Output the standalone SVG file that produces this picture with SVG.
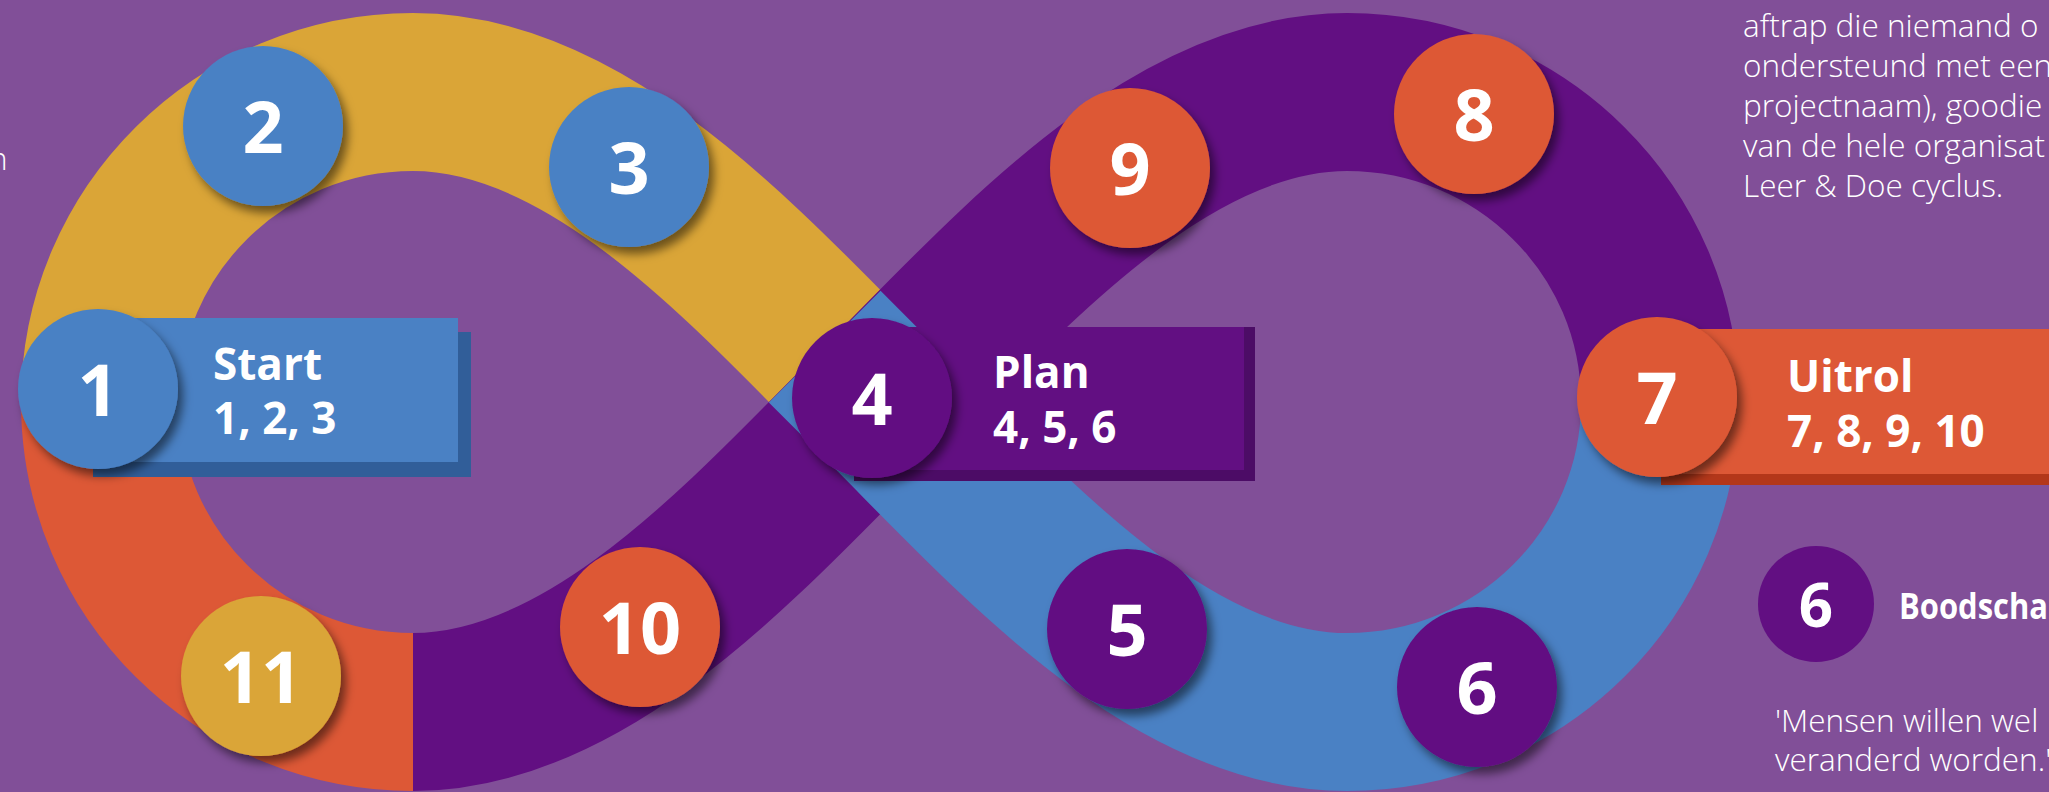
<svg xmlns="http://www.w3.org/2000/svg" width="2049" height="792" viewBox="0 0 2049 792">
<defs>
<style>
.band{fill:none;stroke-width:158;stroke-linecap:butt;stroke-linejoin:round}
.num{font-family:"Open Sans","Noto Sans",sans-serif;font-weight:700;font-size:72px;fill:#fff;text-anchor:middle}
.lbl{font-family:"Open Sans","Noto Sans",sans-serif;font-weight:700;font-size:44px;fill:#fff}
.body{font-family:"Open Sans","Noto Sans",sans-serif;font-weight:300;font-size:31.5px;fill:#fff}
.blue{fill:#4A81C4}.purple{fill:#620F82}.orange{fill:#DD5836}.yellow{fill:#DAA537}
</style>
<filter id="sh" x="-30%" y="-30%" width="160%" height="160%">
<feDropShadow dx="5" dy="7" stdDeviation="5" flood-color="#000" flood-opacity="0.5"/>
</filter>
</defs>
<rect width="2049" height="792" fill="#814F98"/>

<g id="track">
<path class="band" stroke="#DAA537" d="M100,402 C100,230.8 240.1,92 413,92 C593,92 752.7,274.7 880,402"/>
<path class="band" stroke="#DD5836" d="M100,402 C100,573.2 240.1,712 413,712"/>
<path class="band" stroke="#620F82" d="M413,712 C593,712 752.7,529.3 880,402 C1007.3,274.7 1167,92 1347,92 C1519.9,92 1660,230.8 1660,402"/>
<path class="band" stroke="#4A81C4" d="M824.7,346.7 L880,402 C1007.3,529.3 1167,712 1347,712 C1519.9,712 1660,573.2 1660,402"/>
</g>

<g id="box-start">
<rect x="93" y="332" width="378" height="145" fill="#315E99"/>
<rect x="80" y="318" width="378" height="144" fill="#4A81C4"/>
<text class="lbl" x="213" y="380">Start</text>
<text class="lbl" x="213" y="434">1, 2, 3</text>
</g>
<g id="box-plan">
<rect x="854" y="327" width="401" height="154" fill="#4C0C66"/>
<rect x="843" y="327" width="401" height="143" fill="#620F82"/>
<text class="lbl" x="993" y="388">Plan</text>
<text class="lbl" x="993" y="443">4, 5, 6</text>
</g>
<g id="box-uitrol">
<rect x="1661" y="340" width="400" height="145" fill="#B3371A"/>
<rect x="1650" y="329" width="400" height="145" fill="#DD5836"/>
<text class="lbl" x="1787" y="392">Uitrol</text>
<text class="lbl" x="1787" y="447">7, 8, 9, 10</text>
</g>

<g id="n1"><circle class="blue" cx="98" cy="389" r="80" filter="url(#sh)"/><text class="num" x="98" y="416">1</text></g>
<g id="n2"><circle class="blue" cx="263" cy="126" r="80" filter="url(#sh)"/><text class="num" x="263" y="153">2</text></g>
<g id="n3"><circle class="blue" cx="629" cy="167" r="80" filter="url(#sh)"/><text class="num" x="629" y="194">3</text></g>
<g id="n4"><circle class="purple" cx="872" cy="398" r="80" filter="url(#sh)"/><text class="num" x="872" y="425">4</text></g>
<g id="n5"><circle class="purple" cx="1127" cy="629" r="80" filter="url(#sh)"/><text class="num" x="1127" y="656">5</text></g>
<g id="n6"><circle class="purple" cx="1477" cy="687" r="80" filter="url(#sh)"/><text class="num" x="1477" y="714">6</text></g>
<g id="n7"><circle class="orange" cx="1657" cy="397" r="80" filter="url(#sh)"/><text class="num" x="1657" y="424">7</text></g>
<g id="n8"><circle class="orange" cx="1474" cy="114" r="80" filter="url(#sh)"/><text class="num" x="1474" y="141">8</text></g>
<g id="n9"><circle class="orange" cx="1130" cy="168" r="80" filter="url(#sh)"/><text class="num" x="1130" y="195">9</text></g>
<g id="n10"><circle class="orange" cx="640" cy="627" r="80" filter="url(#sh)"/><text class="num" x="640" y="654">10</text></g>
<g id="n11"><circle class="yellow" cx="261" cy="676" r="80" filter="url(#sh)"/><text class="num" x="261" y="703">11</text></g>

<g id="legend-6">
<circle class="purple" cx="1816" cy="604" r="58"/>
<text class="num" x="1816" y="627" style="font-size:60px">6</text>
<text class="lbl" x="1899" y="619" style="font-size:36px" textLength="149" lengthAdjust="spacingAndGlyphs">Boodscha</text>
</g>

<g id="text-right-top">
<text class="body" x="1743" y="37">aftrap die niemand o</text>
<text class="body" x="1743" y="77">ondersteund met een</text>
<text class="body" x="1743" y="117">projectnaam), goodie</text>
<text class="body" x="1743" y="157">van de hele organisat</text>
<text class="body" x="1743" y="197">Leer &amp; Doe cyclus.</text>
</g>
<g id="text-right-bottom">
<text class="body" x="1775" y="732">'Mensen willen wel</text>
<text class="body" x="1775" y="771">veranderd worden.'</text>
</g>
<g id="text-left">
<text class="body" x="-11" y="170">n</text>
</g>
</svg>
